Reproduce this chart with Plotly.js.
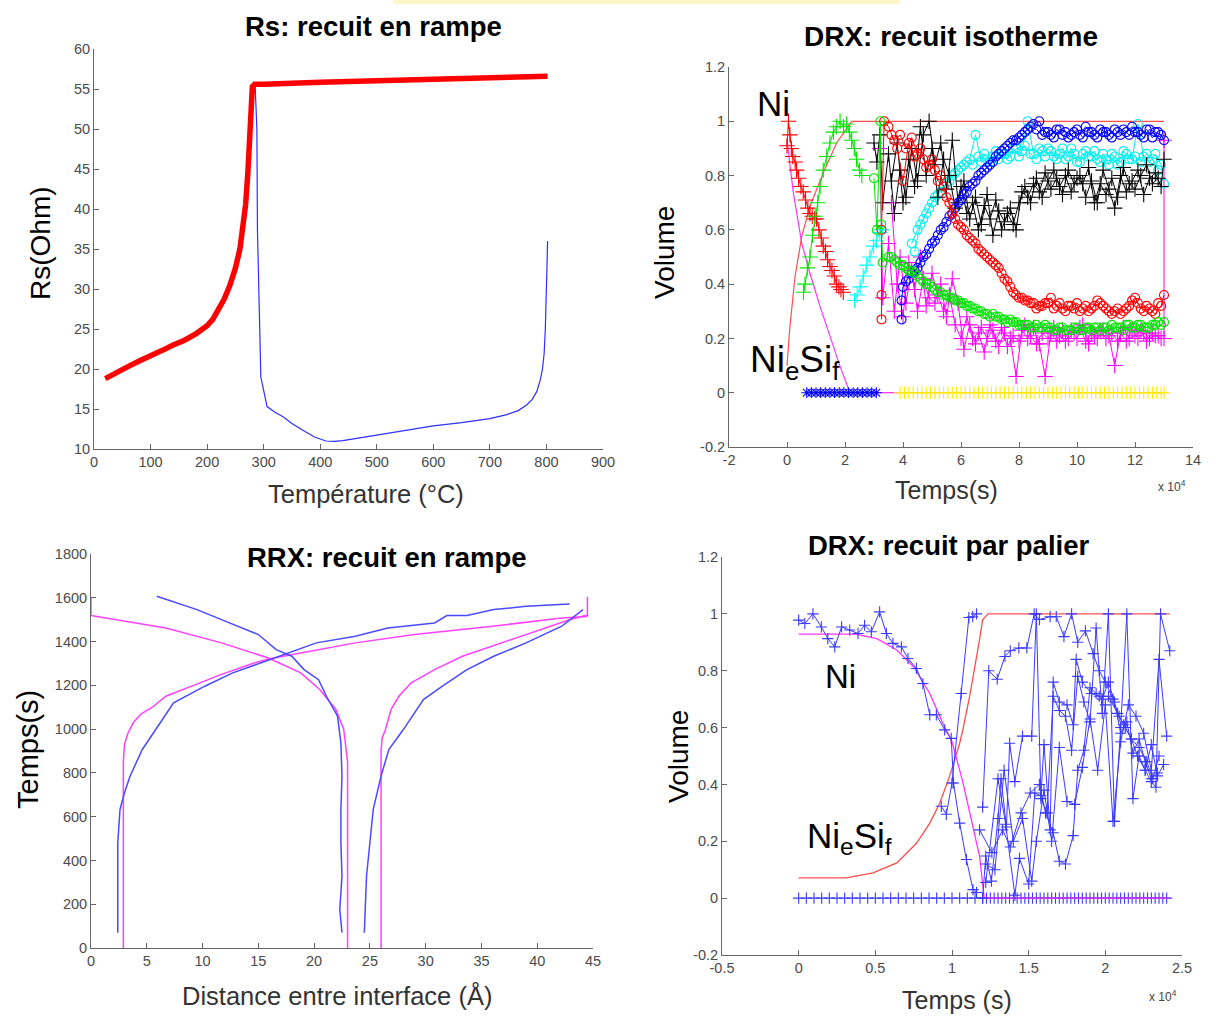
<!DOCTYPE html>
<html><head><meta charset="utf-8">
<script src="https://cdn.plot.ly/plotly-3.0.1.min.js"></script>
<style>html,body{margin:0;padding:0;background:#fff;}#chart{width:1216px;height:1023px;}</style>
</head><body><div id="chart"></div>
<script>
// ---------- Plot 1 : Rs, recuit en rampe ----------
const rsRedT = [20,40,60,80,100,120,140,160,180,200,210,220,230,240,250,258,264,268,272,276,280,284,300,400,500,600,700,802];
const rsRedV = [18.8,19.6,20.3,21.0,21.6,22.3,23.0,23.6,24.4,25.4,26.2,27.3,28.7,30.4,32.6,35.0,37.8,40.5,44.5,49.5,55.3,55.6,55.6,55.85,56.05,56.25,56.45,56.6];
const rsBlueT = [20,40,60,80,100,120,140,160,180,200,210,220,230,240,250,258,264,268,272,276,280,285,288,289,292,295,306,320,335,350,370,390,410,425,440,470,500,550,600,650,700,730,750,765,775,783,789,793,796,798,800,801,802];
const rsBlueV = [18.8,19.6,20.3,21.0,21.6,22.3,23.0,23.6,24.4,25.4,26.2,27.3,28.7,30.4,32.6,35.0,37.8,40.5,44.5,49.5,53.8,55.3,50,37.4,26.5,19,15.3,14.6,14.0,13.2,12.3,11.5,11.0,10.95,11.05,11.4,11.8,12.4,12.9,13.3,13.8,14.3,14.8,15.5,16.2,17.2,18.6,20,22,25,29,33,36];

// ---------- Plot 2 : DRX, recuit isotherme (time in 1e4 s) ----------
const isoThNiT = [0,0.22,0.51,0.79,1.14,1.48,1.83,2.17,13.0];
const isoThNiV = [0.93,0.736,0.55,0.44,0.318,0.207,0.097,0.0,0.0];
const isoThSiT = [0,0.1,0.28,0.51,0.79,1.25,1.71,2.23,13.0];
const isoThSiV = [0.1,0.244,0.43,0.576,0.686,0.81,0.92,1.0,1.0];
const isoRedPlusT = [0.0,0.05,0.1,0.15,0.2,0.28,0.33,0.4,0.48,0.56,0.64,0.72,0.79,0.87,0.95,1.02,1.1,1.18,1.25,1.33,1.4,1.48,1.55,1.63,1.71,1.79,1.86,1.94];
const isoRedPlusV = [0.91,1.0,0.95,0.9,0.87,0.85,0.82,0.79,0.76,0.74,0.71,0.68,0.66,0.65,0.64,0.64,0.6,0.57,0.54,0.52,0.49,0.465,0.45,0.43,0.4,0.39,0.38,0.37];
const isoGreenPlusT = [0.57,0.62,0.7,0.79,0.88,0.97,1.06,1.14,1.25,1.37,1.48,1.6,1.7,1.83,1.95,2.06,2.15,2.23,2.32,2.4,2.5,2.58];
const isoGreenPlusV = [0.37,0.4,0.46,0.5,0.58,0.65,0.7,0.76,0.82,0.87,0.92,0.96,0.98,1.0,0.98,0.99,0.96,0.93,0.9,0.86,0.82,0.8];
const isoCyanPlusT = [2.33,2.42,2.52,2.63,2.75,2.86,2.98,3.08,3.2,3.28];
const isoCyanPlusV = [0.34,0.36,0.39,0.43,0.47,0.5,0.54,0.56,0.59,0.6];
const isoBlueStarT = [0.68,0.84,1.0,1.16,1.32,1.48,1.64,1.8,1.96,2.12,2.28,2.44,2.6,2.76,2.92,3.08];
const isoBlueStarV = [0,0,0,0,0,0,0,0,0,0,0,0,0,0,0,0];
const isoYellowT = [3.9,4.05,4.2,4.35,4.5,4.65,4.8,4.95,5.1,5.25,5.4,5.55,5.7,5.85,6.0,6.15,6.3,6.45,6.6,6.75,6.9,7.05,7.2,7.35,7.5,7.65,7.8,7.95,8.1,8.25,8.4,8.55,8.7,8.85,9.0,9.15,9.3,9.45,9.6,9.75,9.9,10.05,10.2,10.35,10.5,10.65,10.8,10.95,11.1,11.25,11.4,11.55,11.7,11.85,12.0,12.15,12.3,12.45,12.6,12.75,12.9,13.0];
const isoYellowV = [0,0,0,0,0,0,0,0,0,0, 0,0,0,0,0,0,0,0,0,0, 0,0,0,0,0,0,0,0,0,0, 0,0,0,0,0,0,0,0,0,0, 0,0,0,0,0,0,0,0,0,0, 0,0,0,0,0,0,0,0,0,0, 0,0];
// measurement times of the long series: scan 1 (3.5 ... 12.9, 13.0) and scan 2 (3.6 ... 12.8)
const isoT = [3.5,3.7,3.9,4.1,4.3,4.5,4.7,4.9,5.1,5.3,5.5,5.7,5.9,6.1,6.3,6.5,6.7,6.9,7.1,7.3,7.5,7.7,7.9,8.1,8.3,8.5,8.7,8.9,9.1,9.3,9.5,9.7,9.9,10.1,10.3,10.5,10.7,10.9,11.1,11.3,11.5,11.7,11.9,12.1,12.3,12.5,12.7,12.9,13.0];
const isoT2 = [3.6,3.8,4.0,4.2,4.4,4.6,4.8,5.0,5.2,5.4,5.6,5.8,6.0,6.2,6.4,6.6,6.8,7.0,7.2,7.4,7.6,7.8,8.0,8.2,8.4,8.6,8.8,9.0,9.2,9.4,9.6,9.8,10.0,10.2,10.4,10.6,10.8,11.0,11.2,11.4,11.6,11.8,12.0,12.2,12.4,12.6,12.8];
const isoRedOHeadT = [3.26,3.26,3.26,3.35];
const isoRedOHeadV = [0.27,0.36,0.6,1.0];
const isoRedOV = [0.98,0.93,0.95,0.9,0.94,0.88,0.86,0.84,0.82,0.8,0.72,0.66,0.62,0.6,0.57,0.55,0.52,0.5,0.48,0.46,0.42,0.39,0.36,0.35,0.34,0.33,0.32,0.33,0.35,0.32,0.31,0.32,0.31,0.3,0.32,0.31,0.34,0.32,0.3,0.3,0.29,0.31,0.34,0.33,0.3,0.31,0.29,0.32,0.36];
const isoRedOV2 = [0.95,0.9,0.78,0.92,0.87,0.9,0.83,0.86,0.78,0.76,0.7,0.64,0.61,0.58,0.56,0.53,0.51,0.49,0.47,0.44,0.41,0.37,0.35,0.34,0.33,0.31,0.32,0.33,0.31,0.33,0.3,0.32,0.33,0.31,0.3,0.32,0.33,0.31,0.29,0.31,0.3,0.32,0.35,0.31,0.32,0.3,0.33];
const isoGreenOHeadT = [3.0,3.1,3.22,3.25,3.3];
const isoGreenOHeadV = [0.79,0.6,1.0,0.62,0.48];
const isoGreenOV = [0.5,0.49,0.47,0.46,0.45,0.43,0.41,0.4,0.38,0.37,0.36,0.35,0.34,0.33,0.32,0.31,0.3,0.29,0.29,0.28,0.27,0.27,0.26,0.25,0.25,0.24,0.24,0.25,0.24,0.23,0.24,0.23,0.24,0.23,0.24,0.23,0.24,0.24,0.23,0.24,0.24,0.25,0.24,0.25,0.24,0.24,0.25,0.25,0.26];
const isoGreenOV2 = [0.5,0.48,0.47,0.45,0.44,0.42,0.4,0.39,0.37,0.36,0.35,0.34,0.33,0.32,0.31,0.3,0.29,0.28,0.28,0.27,0.26,0.26,0.25,0.25,0.24,0.25,0.24,0.24,0.23,0.24,0.23,0.23,0.24,0.23,0.24,0.24,0.23,0.24,0.25,0.24,0.23,0.25,0.24,0.25,0.24,0.25,0.26];
const isoBlueOHeadT = [3.95,3.95,4.0];
const isoBlueOHeadV = [0.27,0.34,0.39];
const isoBlueOV = [0.41,0.44,0.46,0.5,0.53,0.56,0.6,0.63,0.66,0.7,0.73,0.76,0.78,0.81,0.83,0.85,0.88,0.9,0.92,0.93,0.95,0.97,0.99,1.0,0.96,0.95,0.97,0.95,0.94,0.96,0.95,0.98,0.96,0.94,0.96,0.95,0.97,0.95,0.96,0.98,0.96,0.94,0.97,0.96,0.95,0.93]; // scan 1 from 4.1
const isoBlueOV2 = [0.42,0.45,0.48,0.51,0.55,0.58,0.61,0.65,0.68,0.71,0.74,0.77,0.8,0.82,0.84,0.87,0.89,0.91,0.93,0.94,0.96,0.98,0.97,0.95,0.96,0.94,0.97,0.96,0.95,0.97,0.94,0.96,0.95,0.97,0.96,0.94,0.96,0.97,0.95,0.96,0.95,0.97,0.94,0.96]; // scan 2 from 4.2
const isoCyanOV = [0.55,0.6,0.64,0.68,0.72,0.74,0.77,0.8,0.82,0.84,0.86,0.95,0.85,0.86,0.87,0.86,0.88,0.87,0.9,0.89,1.0,0.88,0.9,0.87,0.89,0.86,0.9,0.87,0.88,0.85,0.89,0.87,0.86,0.88,0.84,0.87,0.85,0.88,0.86,0.99,0.87,0.85,0.88,0.84,0.77]; // scan 1 from 4.3
const isoCyanOV2 = [0.52,0.62,0.66,0.7,0.73,0.76,0.78,0.81,0.83,0.85,0.84,0.87,0.88,0.85,0.89,0.88,0.86,0.9,0.87,0.91,0.88,0.86,0.89,0.9,0.87,0.88,0.86,0.9,0.85,0.88,0.87,0.89,0.85,0.86,0.88,0.84,0.89,0.86,0.87,0.85,0.88,0.86,0.82]; // scan 2 from 4.4
const isoBlackHeadT = [3.0,3.1,3.2,3.3];
const isoBlackHeadV = [0.92,0.85,0.95,0.7];
const isoBlackV = [0.88,0.66,0.82,0.72,0.9,0.78,0.95,1.0,0.84,0.92,0.75,0.93,0.7,0.78,0.64,0.72,0.62,0.73,0.58,0.67,0.63,0.68,0.6,0.74,0.72,0.77,0.74,0.81,0.75,0.79,0.73,0.82,0.77,0.8,0.72,0.78,0.7,0.82,0.75,0.68,0.8,0.74,0.78,0.82,0.73,0.79,0.81,0.76,0.86];
const isoBlackV2 = [0.78,0.92,0.7,0.86,0.76,0.98,0.8,0.9,0.72,0.86,0.8,0.68,0.76,0.66,0.7,0.6,0.69,0.64,0.71,0.6,0.66,0.62,0.7,0.76,0.7,0.79,0.72,0.78,0.82,0.76,0.8,0.74,0.79,0.77,0.83,0.7,0.77,0.73,0.79,0.72,0.83,0.77,0.75,0.8,0.84,0.77,0.79];
const isoMagHeadT = [3.2,3.3];
const isoMagHeadV = [0.9,0.35];
const isoMagV = [0.55,0.3,0.5,0.33,0.45,0.3,0.42,0.35,0.33,0.4,0.28,0.42,0.33,0.16,0.25,0.18,0.24,0.2,0.23,0.17,0.22,0.2,0.06,0.23,0.2,0.24,0.18,0.06,0.22,0.19,0.23,0.2,0.22,0.24,0.19,0.22,0.2,0.23,0.21,0.1,0.22,0.19,0.23,0.2,0.22,0.2,0.21,0.2,0.2];
const isoMagV2 = [0.7,0.4,0.28,0.48,0.38,0.5,0.32,0.44,0.36,0.3,0.36,0.25,0.2,0.28,0.2,0.22,0.15,0.25,0.19,0.24,0.17,0.21,0.19,0.25,0.21,0.18,0.22,0.2,0.24,0.21,0.19,0.23,0.2,0.25,0.18,0.21,0.23,0.2,0.22,0.19,0.24,0.2,0.21,0.23,0.19,0.22,0.21];
const isoMagEndT = [13.0];
const isoMagEndV = [0.93];

// ---------- Plot 3 : RRX, recuit en rampe ----------
const rrxMagAX = [2.9,2.9,3.0,3.3,3.8,4.5,5.5,6.7,9.2,11.7,14.5,15.9,18.8,23.7,29,36,42.2,44.5];
const rrxMagAY = [0,850,930,980,1030,1070,1100,1150,1200,1250,1300,1320,1348,1394,1432,1470,1508,1515];
const rrxMagBX = [23.0,23.0,22.9,22.66,21.95,20.5,18.8,15.9,11.7,6.7,0,0];
const rrxMagBY = [0,850,892,998,1090,1181,1257,1325,1394,1462,1519,1600];
const rrxMagCX = [26.0,26.0,26.1,26.4,26.9,27.6,28.7,30.8,33.3,36.8,40.4,42.9,44.3,44.5,44.5];
const rrxMagCY = [0,900,960,998,1090,1150,1211,1272,1333,1394,1455,1500,1519,1519,1605];
const rrxBlue1X = [2.4,2.4,2.6,3.0,3.5,4.6,6.0,7.4,10.2,12.7,15.2,17.7,20.2,23.7,26.6,30.8,31.9,33.7,36.1,39.0,42.9];
const rrxBlue1Y = [70,481,633,709,785,907,1013,1120,1196,1257,1302,1348,1394,1424,1462,1485,1519,1519,1546,1561,1572];
const rrxBlue2X = [5.9,9.5,11.7,15.0,16.6,18.0,19.1,20.4,21.1,22.1,22.4,22.5,22.4,22.4,22.5,22.3,22.5];
const rrxBlue2Y = [1607,1546,1500,1432,1363,1333,1272,1226,1150,1059,937,785,633,481,329,176,70];
const rrxBlue3X = [24.5,24.7,25.0,25.3,26.0,26.7,28.0,29.8,31.5,33.7,36.1,39.0,42.2,44.1];
const rrxBlue3Y = [70,329,481,633,785,907,998,1135,1196,1272,1333,1394,1470,1546];

// ---------- Plot 4 : DRX, recuit par palier (time in 1e4 s) ----------
const palThSiT = [0,0.31,0.485,0.64,0.77,0.855,0.92,0.985,1.05,1.07,1.115,1.16,1.18,1.2,1.235,2.42];
const palThSiV = [0.071,0.071,0.089,0.124,0.194,0.264,0.334,0.43,0.545,0.59,0.71,0.84,0.91,0.98,1.0,1.0];
const palThNiT = [0,0.37,0.51,0.64,0.75,0.855,0.94,1.0,1.07,1.14,1.18,1.21,2.42];
const palThNiV = [0.929,0.929,0.913,0.873,0.814,0.72,0.615,0.55,0.41,0.24,0.147,0.0,0.0];
const palNiT = [0,0.04,0.093,0.148,0.19,0.235,0.28,0.333,0.387,0.43,0.474,0.528,0.572,0.615,0.67,0.713,0.768,0.81,0.855,0.898,0.952,0.995,1.01,1.05,1.094,1.137,1.16];
const palNiV = [0.978,0.966,1.0,0.954,0.913,0.884,0.954,0.943,0.931,0.96,0.937,1.007,0.931,0.896,0.884,0.843,0.808,0.755,0.645,0.645,0.592,0.562,0.405,0.264,0.136,0.03,0.02];
const palSiT = [0.93,0.963,1.0,1.06,1.11,1.135,1.16];
const palSiV = [0.323,0.295,0.405,0.72,0.987,0.99,1.0];
const palBT = [1.2,1.24,1.295,1.345,1.38,1.436,1.488,1.536,1.57,1.64,1.68,1.73,1.78,1.82,1.87,1.92,1.96,2.0,2.05,2.09,2.13,2.17,2.21,2.26,2.3,2.33,2.36,2.42];
const palBV = [0.32,0.80,0.77,0.85,0.87,0.88,0.88,1.0,0.98,0.99,0.99,0.92,1.0,0.90,0.94,0.86,0.80,0.76,0.70,0.64,0.60,0.56,0.50,0.45,0.41,0.39,1.0,0.87];
const palCT = [1.2,1.22,1.257,1.30,1.32,1.355,1.376,1.41,1.46,1.52,1.55,1.58,1.62,1.66,1.70,1.74,1.78,1.82,1.86,1.9,1.94,1.98,2.02,2.06,2.1,2.14,2.18,2.22,2.26,2.3,2.34,2.38];
const palCV = [0.0,0.148,0.06,0.28,0.42,0.25,0.545,0.41,0.57,0.57,1.0,0.35,0.30,0.71,0.66,0.64,0.52,0.78,0.69,0.62,0.95,0.65,1.0,0.27,0.6,1.0,0.35,0.5,0.45,0.54,0.43,0.47];
const palDT = [1.18,1.26,1.33,1.38,1.45,1.51,1.57,1.61,1.66,1.70,1.74,1.79,1.82,1.86,1.9,1.94,1.98,2.02,2.06,2.1,2.14,2.18,2.22,2.26,2.3,2.34];
const palDV = [0.24,0.16,0.24,0.18,0.30,0.37,0.40,0.30,0.23,0.13,0.12,0.22,0.45,0.52,0.74,0.72,0.70,0.76,0.69,0.58,0.62,0.51,0.56,0.48,0.42,0.44];
const palET = [1.22,1.3,1.35,1.41,1.44,1.5,1.54,1.58,1.6,1.64,1.66,1.7,1.75,1.79,1.81,1.85,1.91,1.96,2.02,2.08,2.12,2.17,2.22,2.27,2.31,2.35];
const palEV = [0.055,0.42,0.26,0.01,0.14,0.05,0.37,0.36,0.54,0.24,0.76,0.69,0.68,0.61,0.84,0.76,0.72,0.71,0.71,0.65,0.61,0.56,0.53,0.48,0.42,0.5];
const palFT = [1.22,1.28,1.34,1.4,1.46,1.52,1.55,1.6,1.65,1.7,1.75,1.8,1.85,1.9,1.95,2.0,2.05,2.1,2.15,2.2,2.25,2.3,2.35,2.4];
const palFV = [0.12,0.1,0.45,0.2,0.28,0.06,0.2,0.38,0.2,0.53,0.34,0.33,0.46,0.63,0.45,0.68,0.27,0.55,0.68,0.64,0.58,0.45,0.84,0.57];
const palZeroT1 = [0,0.05,0.1,0.15,0.2,0.25,0.3,0.35,0.4,0.45,0.5,0.55,0.6,0.65,0.7,0.75,0.8,0.85,0.9,0.95,1.0,1.05,1.1,1.15,1.2,1.25,1.3,1.35,1.4,1.45,1.5,1.55,1.6,1.65,1.7,1.75,1.8,1.85,1.9,1.95,2.0,2.05,2.1,2.15,2.2,2.25,2.3,2.35,2.4];
const palZeroV1 = [0,0,0,0,0,0,0,0,0,0, 0,0,0,0,0,0,0,0,0,0, 0,0,0,0,0,0,0,0,0,0, 0,0,0,0,0,0,0,0,0,0, 0,0,0,0,0,0,0,0,0];
const palZeroT2 = [1.225,1.275,1.325,1.375,1.425,1.475,1.525,1.575,1.625,1.675,1.725,1.775,1.825,1.875,1.925,1.975,2.025,2.075,2.125,2.175,2.225,2.275,2.325,2.375];
const palZeroV2 = [0,0,0,0,0,0,0,0,0,0, 0,0,0,0,0,0,0,0,0,0, 0,0,0,0];

// tick labels
const rsXTicks = [0,100,200,300,400,500,600,700,800,900];
const rsYTicks = [10,15,20,25,30,35,40,45,50,55,60];
const volTicks = [-0.2,0,0.2,0.4,0.6,0.8,1,1.2];
const volTickText = ['-0.2','0','0.2','0.4','0.6','0.8','1','1.2'];
const isoXTicks = [-2,0,2,4,6,8,10,12,14];
const isoXTickText = ['-2','0','2','4','6','8','10','12','14'];
const rrxXTicks = [0,5,10,15,20,25,30,35,40,45];
const rrxYTicks = [0,200,400,600,800,1000,1200,1400,1600,1800];
const palXTicks = [-0.5,0,0.5,1,1.5,2,2.5];
const palXTickText = ['-0.5','0','0.5','1','1.5','2','2.5'];

// ---------- figure ----------
const W = 1216, H = 1023;
const FONT = '"Liberation Sans", Arial, Helvetica, sans-serif';
const dx = (a,b) => [a/W, b/W];
const dy = (top,bottom) => [1-bottom/H, 1-top/H];

function axis(domain, range, anchor, tickvals, ticktext) {
  const a = {domain, range, anchor, showline:true, linecolor:'#666', linewidth:1,
    ticks:'inside', ticklen:5, tickwidth:1, tickcolor:'#666', showgrid:false, zeroline:false,
    tickfont:{family:FONT, size:14.5, color:'#4a4a4a'}, tickmode:'array', tickvals, fixedrange:true};
  if (ticktext) a.ticktext = ticktext;
  return a;
}

const traces = [];
function line(x, y, ax, color, width) {
  traces.push({x, y, xaxis:'x'+ax, yaxis:'y'+ax, type:'scatter', mode:'lines',
    line:{color, width}, hoverinfo:'skip'});
}
function marked(x, y, ax, color, symbol, size, lineW) {
  traces.push({x, y, xaxis:'x'+ax, yaxis:'y'+ax, type:'scatter', mode: lineW>0 ? 'lines+markers' : 'markers',
    line:{color, width:lineW||1},
    marker:{symbol, size, color, line:{color, width:1.1}}, hoverinfo:'skip'});
}

// plot 1
line(rsBlueT, rsBlueV, '', '#2f2fff', 1.2);
line(rsRedT, rsRedV, '', '#ff0000', 5.5);

// plot 2
line(isoThNiT, isoThNiV, '2', '#ff33ff', 1.2);
line(isoThSiT, isoThSiV, '2', '#ff4d4d', 1.2);
marked(isoBlueStarT, isoBlueStarV, '2', '#0000ff', 'asterisk-open', 9, 0);
marked(isoYellowT, isoYellowV, '2', '#ffee00', 'cross-thin-open', 9, 0);
marked(isoRedPlusT, isoRedPlusV, '2', '#ff0000', 'cross-thin-open', 11, 1);
marked(isoGreenPlusT, isoGreenPlusV, '2', '#00e600', 'cross-thin-open', 11, 1);
marked(isoCyanPlusT, isoCyanPlusV, '2', '#00ffff', 'cross-thin-open', 11, 1);
marked(isoMagHeadT.concat(isoT, isoMagEndT), isoMagHeadV.concat(isoMagV, isoMagEndV), '2', '#ff00ff', 'cross-thin-open', 11, 1);
marked(isoT2, isoMagV2, '2', '#ff00ff', 'cross-thin-open', 11, 1);
marked(isoT.slice(4), isoCyanOV, '2', '#00f0f0', 'circle-open', 9, 1);
marked(isoT2.slice(4), isoCyanOV2, '2', '#00f0f0', 'circle-open', 9, 1);
marked(isoBlackHeadT.concat(isoT), isoBlackHeadV.concat(isoBlackV), '2', '#000000', 'cross-thin-open', 11, 1);
marked(isoT2, isoBlackV2, '2', '#000000', 'cross-thin-open', 11, 1);
marked(isoBlueOHeadT.concat(isoT.slice(3)), isoBlueOHeadV.concat(isoBlueOV), '2', '#0000ff', 'circle-open', 9, 1);
marked(isoT2.slice(3), isoBlueOV2, '2', '#0000ff', 'circle-open', 9, 1);
marked(isoRedOHeadT.concat(isoT), isoRedOHeadV.concat(isoRedOV), '2', '#ff0000', 'circle-open', 9, 1);
marked(isoT2, isoRedOV2, '2', '#ff0000', 'circle-open', 9, 1);
marked(isoGreenOHeadT.concat(isoT), isoGreenOHeadV.concat(isoGreenOV), '2', '#00e600', 'circle-open', 9, 1);
marked(isoT2, isoGreenOV2, '2', '#00e600', 'circle-open', 9, 1);

// plot 3
line(rrxMagAX, rrxMagAY, '3', '#ff40ff', 1.5);
line(rrxMagBX, rrxMagBY, '3', '#ff40ff', 1.5);
line(rrxMagCX, rrxMagCY, '3', '#ff40ff', 1.5);
line(rrxBlue1X, rrxBlue1Y, '3', '#4a4aff', 1.5);
line(rrxBlue2X, rrxBlue2Y, '3', '#4a4aff', 1.5);
line(rrxBlue3X, rrxBlue3Y, '3', '#4a4aff', 1.5);

// plot 4
const pb = '#3a3aff';
marked(palZeroT1, palZeroV1, '4', pb, 'cross-thin-open', 8, 0);
marked(palZeroT2, palZeroV2, '4', pb, 'cross-thin-open', 8, 0);
line(palThSiT, palThSiV, '4', '#ff4d4d', 1.3);
line(palThNiT, palThNiV, '4', '#ff33ff', 1.3);
marked(palNiT, palNiV, '4', pb, 'cross-thin-open', 8, 1);
marked(palSiT, palSiV, '4', pb, 'cross-thin-open', 8, 1);
marked(palBT, palBV, '4', pb, 'cross-thin-open', 8, 1);
marked(palCT, palCV, '4', pb, 'cross-thin-open', 8, 1);
marked(palDT, palDV, '4', pb, 'cross-thin-open', 8, 1);
marked(palET, palEV, '4', pb, 'cross-thin-open', 8, 1);
marked(palFT, palFV, '4', pb, 'cross-thin-open', 8, 1);

function ann(text, px, py, size, color, angle) {
  const a = {text, x:px/W, y:1-py/H, xref:'paper', yref:'paper', showarrow:false,
    xanchor:'center', yanchor:'middle', font:{family:FONT, size, color: color || '#000'}};
  if (angle) a.textangle = angle;
  return a;
}

const layout = {
  width:W, height:H, margin:{l:0,r:0,t:0,b:0}, paper_bgcolor:'#fff', plot_bgcolor:'rgba(0,0,0,0)',
  showlegend:false,
  xaxis: axis(dx(94,603), [0,900], 'y', rsXTicks),
  yaxis: axis(dy(49,449), [10,60], 'x', rsYTicks),
  xaxis2: axis(dx(729,1193), [-2,14], 'y2', isoXTicks, isoXTickText),
  yaxis2: axis(dy(67,447), [-0.2,1.2], 'x2', volTicks, volTickText),
  xaxis3: axis(dx(91,593), [0,45], 'y3', rrxXTicks),
  yaxis3: axis(dy(554,948), [0,1800], 'x3', rrxYTicks),
  xaxis4: axis(dx(722,1182), [-0.5,2.5], 'y4', palXTicks, palXTickText),
  yaxis4: axis(dy(557,955), [-0.2,1.2], 'x4', volTicks, volTickText),
  shapes: [{type:'rect', xref:'paper', yref:'paper', x0:393/W, x1:900/W, y0:1-4/H, y1:1, fillcolor:'#fdf7c8', line:{width:0}}],
  annotations: [
    ann('<b>Rs: recuit en rampe</b>', 373, 27, 27.5),
    ann('<b>DRX: recuit isotherme</b>', 951, 37, 28),
    ann('<b>RRX: recuit en rampe</b>', 387, 557, 27.5),
    ann('<b>DRX: recuit par palier</b>', 948, 545, 27.5),
    ann('Rs(Ohm)', 40, 243, 28, '#000', -90),
    ann('Température (°C)', 366, 494, 25.5, '#333'),
    ann('Volume', 664, 253, 28, '#000', -90),
    ann('Temps(s)', 946, 490, 25, '#333'),
    ann('Temps(s)', 28, 750, 29, '#000', -90),
    ann('Distance entre interface (Å)', 337, 995, 25.5, '#333'),
    ann('Volume', 678, 757, 28, '#000', -90),
    ann('Temps (s)', 957, 1000, 25, '#333'),
    ann('x 10<sup>4</sup>', 1172, 486, 12, '#444'),
    ann('x 10<sup>4</sup>', 1163, 996, 12, '#444'),
    ann('Ni', 773, 103, 35),
    ann('Ni<sub>e</sub>Si<sub>f</sub>', 795, 362, 37),
    ann('Ni', 840, 676, 33),
    ann('Ni<sub>e</sub>Si<sub>f</sub>', 849, 838, 35)
  ]
};

Plotly.newPlot('chart', traces, layout, {staticPlot:true, displayModeBar:false});
</script>
</body></html>
